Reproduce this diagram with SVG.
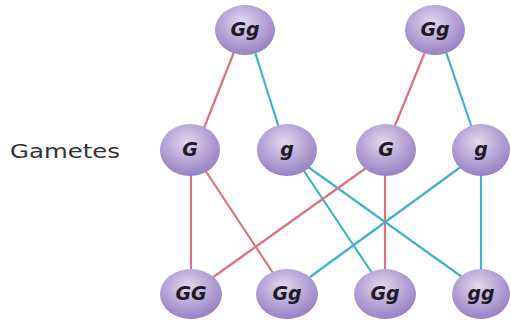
<svg xmlns="http://www.w3.org/2000/svg" width="511" height="324" viewBox="0 0 511 324">
<defs>
<radialGradient id="ball" cx="0.45" cy="0.35" r="0.65">
<stop offset="0" stop-color="#e2d9ef"/>
<stop offset="0.55" stop-color="#b7a6d6"/>
<stop offset="1" stop-color="#9682c2"/>
</radialGradient>
<style>
.n ellipse{fill:url(#ball);}
.n text{font-family:"DejaVu Sans","Liberation Sans",sans-serif;font-weight:bold;font-style:italic;font-size:19px;fill:#1e1a28;text-anchor:middle;}
.r{stroke:#e0707e;stroke-width:2.2;fill:none;}
.b{stroke:#3fb3c8;stroke-width:2.2;fill:none;}
.lbl{font-family:"DejaVu Sans","Liberation Sans",sans-serif;font-size:19px;fill:#333;}
</style>
</defs>
<rect width="511" height="324" fill="#fff"/>
<g id="connectors">
<line class="r" x1="234" y1="52" x2="204" y2="128"/>
<line class="b" x1="255" y1="52" x2="279" y2="128"/>
<line class="r" x1="425" y1="52" x2="394" y2="128"/>
<line class="b" x1="446" y1="52" x2="472" y2="128"/>
<line class="r" x1="191" y1="174" x2="191" y2="270"/>
<line class="r" x1="205" y1="170" x2="273" y2="273"/>
<line class="b" x1="302" y1="168" x2="372" y2="273"/>
<line class="b" x1="304" y1="164" x2="462" y2="277"/>
<line class="r" x1="366" y1="168" x2="212" y2="278"/>
<line class="r" x1="385" y1="174" x2="385" y2="270"/>
<line class="b" x1="462" y1="166" x2="310" y2="277"/>
<line class="b" x1="481" y1="174" x2="481" y2="270"/>
</g>
<text class="lbl" x="10" y="158" textLength="110" lengthAdjust="spacingAndGlyphs">Gametes</text>
<g id="p1" class="n"><ellipse cx="245" cy="30" rx="30" ry="25"/><text x="245" y="36">Gg</text></g>
<g id="p2" class="n"><ellipse cx="435" cy="30" rx="30" ry="25"/><text x="435" y="36">Gg</text></g>
<g id="g1" class="n"><ellipse cx="190" cy="150" rx="30" ry="26"/><text x="190" y="156">G</text></g>
<g id="g2" class="n"><ellipse cx="287" cy="150" rx="30" ry="26"/><text x="287" y="156">g</text></g>
<g id="g3" class="n"><ellipse cx="386" cy="150" rx="30" ry="26"/><text x="386" y="156">G</text></g>
<g id="g4" class="n"><ellipse cx="481" cy="150" rx="29" ry="26"/><text x="481" y="156">g</text></g>
<g id="o1" class="n"><ellipse cx="191" cy="294" rx="31" ry="25"/><text x="191" y="300">GG</text></g>
<g id="o2" class="n"><ellipse cx="287" cy="294" rx="31" ry="25"/><text x="287" y="300">Gg</text></g>
<g id="o3" class="n"><ellipse cx="385" cy="294" rx="31" ry="25"/><text x="385" y="300">Gg</text></g>
<g id="o4" class="n"><ellipse cx="481" cy="294" rx="29" ry="25"/><text x="481" y="300">gg</text></g>
</svg>
